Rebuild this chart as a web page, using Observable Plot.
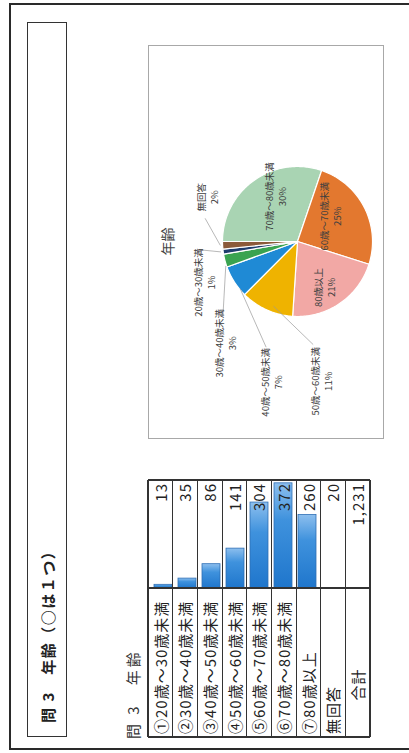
<!DOCTYPE html>
<html><head><meta charset="utf-8">
<script src="https://cdn.jsdelivr.net/npm/d3@7"></script>
<script src="https://cdn.jsdelivr.net/npm/@observablehq/plot@0.6"></script>
<style>
html,body{margin:0;padding:0;background:#fff;width:409px;height:753px;overflow:hidden;}
#page{position:absolute;left:0;top:0;width:753px;height:409px;transform-origin:0 0;transform:translate(0px,753px) rotate(-90deg);font-family:"Noto Sans CJK JP","Noto Sans",sans-serif;color:#222;}
.abs{position:absolute;box-sizing:border-box;}
</style></head><body>
<svg width="0" height="0" style="position:absolute">
  <defs>
    <linearGradient id="barGrad" x1="0" y1="0" x2="1" y2="0">
      <stop offset="0" stop-color="#1f76cc"/>
      <stop offset="0.65" stop-color="#3f92dd"/>
      <stop offset="1" stop-color="#8dbfee"/>
    </linearGradient>
  </defs>
</svg>
<div id="page"></div>
<script>
// ---- data ----
const title = "問 3　年齢（○は１つ）";
const subtitle = "問 3　年齢";
const categories = ["①20歳～30歳未満","②30歳～40歳未満","③40歳～50歳未満","④50歳～60歳未満","⑤60歳～70歳未満","⑥70歳～80歳未満","⑦80歳以上"];
const counts = [13, 35, 86, 141, 304, 372, 260];
const noAnswerLabel = "無回答";
const noAnswer = 20;
const totalLabel = "合計";
const pieTitle = "年齢";
const pieCategories = ["20歳～30歳未満","30歳～40歳未満","40歳～50歳未満","50歳～60歳未満","60歳～70歳未満","70歳～80歳未満","80歳以上","無回答"];
const pieValues = [13, 35, 86, 141, 304, 372, 260, 20];
const pieOrder = [5, 4, 6, 3, 2, 1, 0, 7];
const pieColors = ["#1f3d6e","#3aa350","#1f8ad5","#efb300","#e3782f","#a9d4b3","#f2a8a5","#8b5a3a"];

// ---- layout (not data) ----
// label placement relative to slice mid-angle: r in pie radii, shift in degrees
const labelLayout = [
  {inside:false, r:1.355, shift:-16, lr:1.32, ls:3,   er:1.03, es:0},
  {inside:false, r:1.66,  shift:-40, lr:1.40, ls:-30, er:1.01, es:-4},
  {inside:false, r:1.91,  shift:-47, lr:1.47, ls:-41, er:0.99, es:-7},
  {inside:false, r:1.89,  shift:-34, lr:1.39, ls:-33, er:0.92, es:-4},
  {inside:true,  r:0.55,  shift:-11},
  {inside:true,  r:0.67,  shift:9},
  {inside:true,  r:0.71,  shift:4},
  {inside:false, r:1.34,  shift:29, lr:1.27, ls:17, er:1.03, es:0}
];

const page = document.getElementById("page");
function box(l, t, w, h, css) {
  const d = document.createElement("div");
  d.className = "abs";
  d.style.cssText += `left:${l}px;top:${t}px;width:${w}px;height:${h}px;` + (css || "");
  page.appendChild(d);
  return d;
}

// outer frame and title box
box(3, 9, 747, 440, "border:2px solid #2a2a2a;");
box(16, 27, 715, 40, "border:1.5px solid #333;");
const t1 = box(30, 27, 400, 40, "display:flex;align-items:center;font-size:15px;font-weight:bold;letter-spacing:1.5px;color:#222;");
t1.textContent = title;
const t2 = box(14, 118, 200, 28, "display:flex;align-items:center;font-size:15px;letter-spacing:3px;color:#333;");
t2.textContent = subtitle;

// ---- table with bars ----
const rowLabels = [...categories, noAnswerLabel, totalLabel];
const total = d3.sum(counts) + noAnswer;
const rowValues = [...counts, noAnswer, total];
const tL = 16, tT = 148, labW = 149, valW = 108, tH = 222;
const rowH = tH / rowLabels.length;

const barPlot = Plot.plot({
  width: valW, height: tH,
  margin: 0,
  x: {domain: [0, 382], range: [0, valW], axis: null},
  y: {domain: rowLabels, range: [0, tH], padding: 0, axis: null},
  style: {background: "transparent", overflow: "visible"},
  marks: [
    Plot.barX(categories.map((c, i) => ({label: c, value: counts[i]})), {
      x: "value", y: "label", fill: "url(#barGrad)", stroke: "#2f6fb5", strokeWidth: 0.8,
      insetTop: 3, insetBottom: 3
    })
  ]
});
barPlot.style.position = "absolute";
barPlot.style.left = (tL + labW) + "px";
barPlot.style.top = tT + "px";
page.appendChild(barPlot);

// grid lines
for (let i = 0; i <= rowLabels.length; i++) {
  const outer = (i === 0 || i === rowLabels.length);
  box(tL, tT + i * rowH - (outer ? 0.75 : 0.5), labW + valW, outer ? 1.5 : 1, "background:#333;");
}
box(tL - 0.75, tT, 1.5, tH, "background:#333;");
box(tL + labW - 0.75, tT, 1.5, tH, "background:#333;");
box(tL + labW + valW - 0.75, tT, 1.5, tH, "background:#333;");

rowLabels.forEach((lab, i) => {
  const isTotal = i === rowLabels.length - 1;
  const l = box(tL + 3, tT + i * rowH, isTotal ? labW - 50 : labW - 4, rowH,
    `display:flex;align-items:center;justify-content:${isTotal ? "center" : "flex-start"};font-size:15px;letter-spacing:1px;color:#222;white-space:nowrap;`);
  l.textContent = lab;
  const v = box(tL + labW, tT + i * rowH, valW - 3, rowH,
    "display:flex;align-items:center;justify-content:flex-end;font-size:15px;letter-spacing:1px;color:#222;");
  v.textContent = d3.format(",")(rowValues[i]);
});

// ---- pie panel ----
const pL = 314, pT = 148, pW = 394, pH = 236;
box(pL, pT, pW, pH, "border:1.5px solid #a8a8a8;");
const cx = 197, cy = 149, R = 75;

const pieTotal = d3.sum(pieValues);
const ordered = pieOrder.map(i => ({name: pieCategories[i], value: pieValues[i], color: pieColors[i], lay: labelLayout[i]}));
const arcs = d3.pie().sort(null).value(d => d.value)(ordered);
const polar = (a, r) => ({x: r * Math.sin(a), y: r * Math.cos(a)});
const deg = Math.PI / 180;

const slicePts = [];
arcs.forEach(a => {
  const key = a.data.name;
  slicePts.push({key, x: 0, y: 0});
  const n = Math.max(2, Math.ceil((a.endAngle - a.startAngle) / deg));
  for (let k = 0; k <= n; k++) {
    const t = a.startAngle + (a.endAngle - a.startAngle) * k / n;
    slicePts.push({key, ...polar(t, 1)});
  }
  slicePts.push({key, x: 0, y: 0});
});

const labels = arcs.map(a => {
  const mid = (a.startAngle + a.endAngle) / 2;
  const L = a.data.lay;
  const p = polar(mid + L.shift * deg, L.r);
  return {x: p.x, y: p.y, text: a.data.name + "\n" + d3.format(".0%")(a.data.value / pieTotal)};
});
const leaders = arcs.filter(a => !a.data.lay.inside).map(a => {
  const mid = (a.startAngle + a.endAngle) / 2;
  const L = a.data.lay;
  const s = polar(mid + L.ls * deg, L.lr), e = polar(mid + L.es * deg, L.er);
  return {x1: s.x, y1: s.y, x2: e.x, y2: e.y};
});

const piePlot = Plot.plot({
  width: pW, height: pH, margin: 0,
  x: {domain: [-cx / R, (pW - cx) / R], range: [0, pW], axis: null},
  y: {domain: [-(pH - cy) / R, cy / R], range: [pH, 0], axis: null},
  color: {domain: ordered.map(d => d.name), range: ordered.map(d => d.color)},
  style: {background: "transparent", overflow: "visible", fontFamily: "'Noto Sans CJK JP', sans-serif"},
  marks: [
    Plot.line(slicePts, {x: "x", y: "y", z: "key", fill: "key", stroke: "white", strokeWidth: 1.2, curve: "linear"}),
    Plot.link(leaders, {x1: "x1", y1: "y1", x2: "x2", y2: "y2", stroke: "#9a9a9a", strokeWidth: 0.7}),
    Plot.text(labels, {x: "x", y: "y", text: "text", fontSize: 9.5, fill: "#404040", lineHeight: 1.35}),
    Plot.text([pieTitle], {x: () => 0, y: () => (cy - 20) / R, fontSize: 14, fill: "#444"})
  ]
});
piePlot.style.position = "absolute";
piePlot.style.left = pL + "px";
piePlot.style.top = pT + "px";
page.appendChild(piePlot);
</script>
</body></html>
